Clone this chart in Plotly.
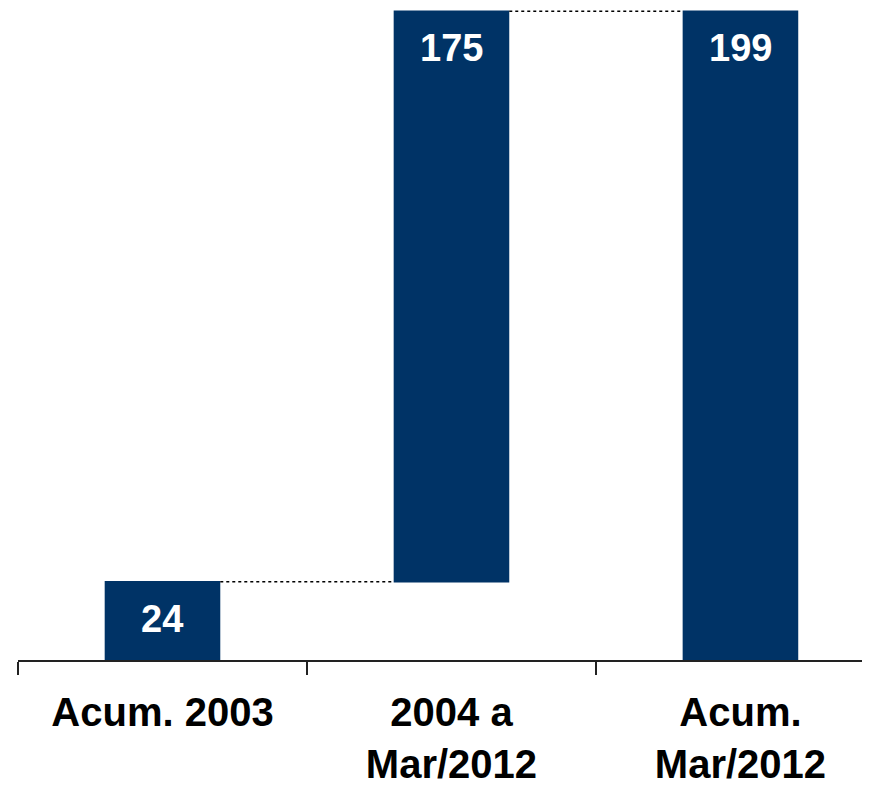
import plotly.graph_objects as go

categories = ["Acum. 2003", "2004 a<br>Mar/2012", "Acum.<br>Mar/2012"]
values = [24, 175, 199]
measures = ["absolute", "relative", "total"]
labels = ["24", "175", "199"]

BAR = "#003366"
FONT = "Liberation Sans"

# tops of each bar, for the value labels
tops = []
run = 0
for v, m in zip(values, measures):
    if m == "absolute" or m == "total":
        run = v
    else:
        run += v
    tops.append(run)

fig = go.Figure(go.Waterfall(
    x=categories,
    y=values,
    measure=measures,
    width=0.4,
    increasing=dict(marker=dict(color=BAR)),
    decreasing=dict(marker=dict(color=BAR)),
    totals=dict(marker=dict(color=BAR)),
    connector=dict(line=dict(color="black", width=1.3, dash="dot"), mode="between"),
    showlegend=False,
))

for c, t, lab in zip(categories, tops, labels):
    fig.add_annotation(
        x=c, y=t, text=lab, showarrow=False, yanchor="middle", yshift=-37,
        font=dict(family=FONT, size=38, color="white", weight="bold"),
    )

fig.update_layout(
    width=870, height=788,
    margin=dict(l=10, r=0, t=0, b=136),
    paper_bgcolor="white", plot_bgcolor="white",
    xaxis=dict(
        range=[-0.5, 2.476],
        showline=True, linecolor="#222222", linewidth=2,
        ticks="outside", tickson="boundaries", ticklen=13, tickwidth=2, tickcolor="#222222",
        ticklabelstandoff=16,
        tickfont=dict(family=FONT, size=40, color="black", weight="bold"),
        showgrid=False, zeroline=False,
    ),
    yaxis=dict(range=[0, 200], visible=False, showgrid=False, zeroline=False),
)

fig.write_html("out.html")
